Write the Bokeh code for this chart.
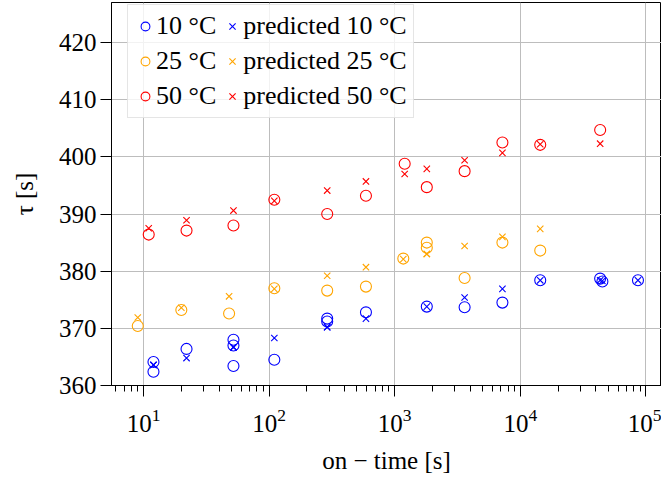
from bokeh.plotting import figure
from bokeh.models import Legend, LegendItem, FixedTicker
from bokeh.embed import file_html
from bokeh.resources import INLINE

# 10 °C
t10 = [12, 12, 22, 52, 52, 52, 110, 290, 290, 590, 1800, 3600, 7200, 14400, 43200, 45000, 86400]
meas10 = [364.1, 362.4, 366.4, 368.0, 367.0, 363.4, 364.5, 371.7, 371.2, 372.8, 373.8, 373.7, 374.5, 378.4, 378.7, 378.2, 378.4]
pred10 = [363.6, 363.6, 364.8, 366.7, 366.7, 366.7, 368.3, 370.2, 370.2, 371.7, 373.8, 375.4, 376.9, 378.4, 378.4, 378.3, 378.4]

# 25 °C
t25 = [9, 20, 48, 110, 290, 590, 1170, 1800, 1800, 3600, 7200, 14400]
meas25 = [370.4, 373.2, 372.6, 377.0, 376.6, 377.3, 382.2, 385.0, 384.1, 378.8, 385.0, 383.6]
pred25 = [371.9, 373.6, 375.6, 376.9, 379.2, 380.7, 382.1, 383.0, 383.0, 384.4, 386.0, 387.4]

# 50 °C
t50 = [11, 22, 52, 110, 290, 590, 1200, 1800, 3600, 7200, 14400, 43200]
meas50 = [386.4, 387.1, 388.0, 392.5, 390.0, 393.2, 398.8, 394.7, 397.5, 402.5, 402.1, 404.7]
pred50 = [387.5, 388.9, 390.6, 392.3, 394.1, 395.7, 397.0, 397.9, 399.4, 400.7, 402.2, 402.3]

y_ticks = [360, 370, 380, 390, 400, 410, 420]
labels = ["10 °C", "25 °C", "50 °C"]
colors = ["#0000ff", "#ffa500", "#ff0000"]

FONT = "Liberation Serif"
FS = "25px"

p = figure(width=661, height=477, x_axis_type="log",
           x_range=(5.56, 133000), y_range=(360, 427.0),
           output_backend="svg", toolbar_location=None,
           min_border_left=111, min_border_right=0,
           min_border_top=2, min_border_bottom=92)

series = [(t10, meas10, pred10), (t25, meas25, pred25), (t50, meas50, pred50)]
meas_r = []
pred_r = []
for (t, m, pr), c in zip(series, colors):
    r1 = p.scatter(t, m, marker="circle", size=11, fill_color=None,
                   line_color=c, line_width=1.1)
    r2 = p.scatter(t, pr, marker="x", size=9, line_color=c, line_width=1.1)
    meas_r.append(r1)
    pred_r.append(r2)

items = []
for i in range(3):
    items.append(LegendItem(label=labels[i], renderers=[meas_r[i]]))
for i in range(3):
    items.append(LegendItem(label="predicted " + labels[i], renderers=[pred_r[i]]))

legend = Legend(items=items, location=(16, 267), ncols=2,
                label_text_font=FONT, label_text_font_size="26px",
                label_text_color="black",
                glyph_width=22, glyph_height=26, label_standoff=0,
                spacing=5, padding=6, margin=0,
                border_line_color="#cccccc", background_fill_alpha=0.8,
                label_height=28, label_width=60)
p.add_layout(legend)

p.outline_line_color = "black"
p.outline_line_width = 1

p.grid.grid_line_color = "#bdbdbd"
p.grid.grid_line_width = 1

for ax in (p.xaxis, p.yaxis):
    ax.axis_line_color = "black"
    ax.major_tick_line_color = "black"
    ax.minor_tick_line_color = "black"
    ax.major_tick_out = 11
    ax.major_tick_in = 0
    ax.minor_tick_out = 6
    ax.minor_tick_in = 0
    ax.major_label_text_font = FONT
    ax.major_label_text_font_size = FS
    ax.axis_label_text_font = FONT
    ax.axis_label_text_font_size = FS
    ax.axis_label_text_font_style = "normal"
    ax.major_label_text_color = "black"
    ax.axis_label_text_color = "black"

p.yaxis.ticker = FixedTicker(ticks=y_ticks)
p.yaxis.minor_tick_line_color = None
p.yaxis.major_label_standoff = 4
p.yaxis.axis_label = "τ [s]"
p.yaxis.axis_label_standoff = 18

p.xaxis.axis_label = "on − time [s]"
p.xaxis.major_label_standoff = 12
p.xaxis.axis_label_standoff = 12

open("out.html", "w").write(file_html(p, INLINE))
